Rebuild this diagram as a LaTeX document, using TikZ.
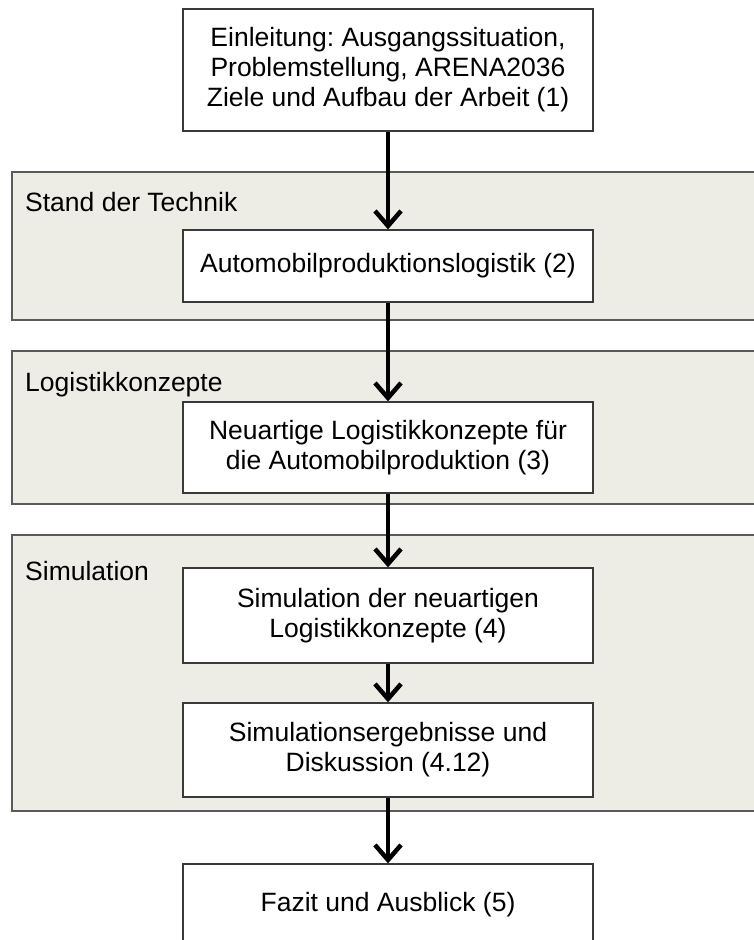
\documentclass[tikz,border=0pt]{standalone}
\usepackage{fontspec}
\setmainfont{Liberation Sans}
\frenchspacing
\usetikzlibrary{arrows.meta}
\definecolor{panelfill}{HTML}{EEEDE5}
\definecolor{panelline}{HTML}{5A5A5A}
\definecolor{boxline}{HTML}{3A3A3A}
\tikzset{
  panel/.style={draw=panelline, line width=1.6pt, fill=panelfill, minimum width=748pt, inner sep=0pt},
  stepbox/.style={draw=boxline, line width=1.3pt, fill=white, minimum width=410pt, align=center, inner sep=0pt,
    font=\fontsize{26.5}{30}\selectfont},
  paneltitle/.style={anchor=base west, inner sep=0pt, font=\fontsize{26.5}{30}\selectfont},
  flow/.style={line width=4.5pt, -{Straight Barb[length=15pt,width=26pt,line width=4.5pt]}}
}
\begin{document}
\begin{tikzpicture}[x=1pt,y=-1pt]
\useasboundingbox (0,0) rectangle (753,940);
% panels
\node[panel, minimum height=148pt] (p1) at (386,246) {};
\node[panel, minimum height=153pt] (p2) at (386,427.5) {};
\node[panel, minimum height=276pt] (p3) at (386,673) {};
\node[paneltitle] (t1) at (25,211) {Stand der Technik};
\node[paneltitle] (t2) at (25,391) {Logistikkonzepte};
\node[paneltitle] (t3) at (25,580) {Simulation};
% boxes
\node[stepbox, minimum height=122pt] (b1) at (388,70) {Einleitung: Ausgangssituation,\\Problemstellung, ARENA2036\\Ziele und Aufbau der Arbeit (1)};
\node[stepbox, minimum height=72pt] (b2) at (388,266) {Automobilproduktionslogistik (2)};
\node[stepbox, minimum height=91pt] (b3) at (388,447.5) {Neuartige Logistikkonzepte für\\die Automobilproduktion (3)};
\node[stepbox, minimum height=95pt] (b4) at (388,615.5) {Simulation der neuartigen\\Logistikkonzepte (4)};
\node[stepbox, minimum height=94pt] (b5) at (388,750) {Simulationsergebnisse und\\Diskussion (4.12)};
\node[stepbox, minimum height=82pt] (b6) at (388,905) {Fazit und Ausblick (5)};
% arrows
\draw[flow] (b1.south) -- (b2.north);
\draw[flow] (b2.south) -- (b3.north);
\draw[flow] (b3.south) -- (b4.north);
\draw[flow] (b4.south) -- (b5.north);
\draw[flow] (b5.south) -- (b6.north);
\end{tikzpicture}
\end{document}
